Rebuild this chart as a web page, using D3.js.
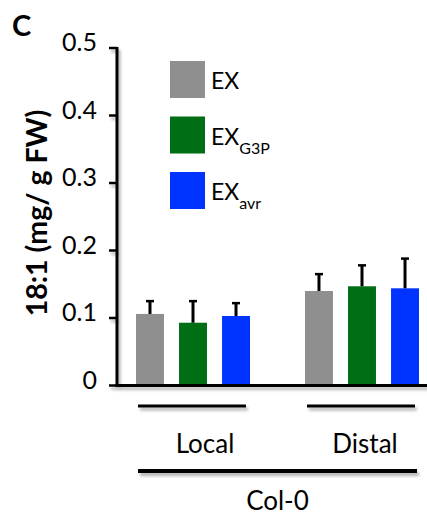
<!DOCTYPE html>
<html>
<head>
<meta charset="utf-8">
<script src="https://cdn.jsdelivr.net/npm/d3@7"></script>
<style>
  html, body { margin: 0; padding: 0; background: #fff; }
  svg { display: block; }
  text { font-family: Lato, "Open Sans", sans-serif; fill: #000; }
</style>
</head>
<body>
<script>
// 18:1 fatty acid content in exudates, Col-0 local vs distal tissue
const groups = ["Local", "Distal"];
const series = ["EX", "EX_G3P", "EX_avr"];
const seriesLabels = [["EX", ""], ["EX", "G3P"], ["EX", "avr"]];
const colors = ["#8f8f8f", "#006e14", "#0033ff"];
const values = {
  Local:  [0.106, 0.093, 0.103],
  Distal: [0.140, 0.147, 0.144]
};
const errors = {
  Local:  [0.019, 0.032, 0.019],
  Distal: [0.025, 0.031, 0.044]
};
const yTicks = [0, 0.1, 0.2, 0.3, 0.4, 0.5];
const yTickLabels = ["0", "0.1", "0.2", "0.3", "0.4", "0.5"];

const W = 427, H = 517;
const svg = d3.select("body").append("svg").attr("width", W).attr("height", H);

const defs = svg.append("defs");
const shadow = defs.append("filter").attr("id", "shadow")
  .attr("x", "-10%").attr("y", "-50%").attr("width", "130%").attr("height", "300%");
shadow.append("feDropShadow").attr("dx", 2).attr("dy", 3).attr("stdDeviation", 1.5)
  .attr("flood-color", "#000").attr("flood-opacity", 0.3);

const axisX = 117, axisRight = 427;
const y = d3.scaleLinear().domain([0, 0.5]).range([385.5, 48]);
const gx = d3.scalePoint().domain(groups).range([193, 362]);
const bx = d3.scaleBand().domain(series).range([-57, 57]).paddingInner(0.35).paddingOuter(0);

// bars
const barG = svg.append("g");
groups.forEach(g => {
  series.forEach((s, i) => {
    const x0 = gx(g) + bx(s);
    barG.append("rect")
      .attr("x", x0).attr("width", bx.bandwidth())
      .attr("y", y(values[g][i])).attr("height", y(0) - y(values[g][i]))
      .attr("fill", colors[i]);
    // upper error bar
    const cx = x0 + bx.bandwidth() / 2;
    const top = y(values[g][i] + errors[g][i]);
    barG.append("line")
      .attr("x1", cx).attr("x2", cx).attr("y1", y(values[g][i])).attr("y2", top)
      .attr("stroke", "#000").attr("stroke-width", 3);
    barG.append("line")
      .attr("x1", cx - 4).attr("x2", cx + 4).attr("y1", top).attr("y2", top)
      .attr("stroke", "#000").attr("stroke-width", 2.5);
  });
});

// y axis
const yAxisG = svg.append("g").attr("filter", "url(#shadow)");
yAxisG.append("line")
  .attr("x1", axisX).attr("x2", axisX).attr("y1", y(0.5) - 1).attr("y2", y(0) + 1.5)
  .attr("stroke", "#000").attr("stroke-width", 3);
yAxisG.selectAll(".tick").data(yTicks).join("line")
  .attr("x1", axisX - 8).attr("x2", axisX).attr("y1", d => y(d)).attr("y2", d => y(d))
  .attr("stroke", "#000").attr("stroke-width", 2.5);
// x axis
yAxisG.append("line")
  .attr("x1", axisX - 2).attr("x2", axisRight).attr("y1", y(0)).attr("y2", y(0))
  .attr("stroke", "#000").attr("stroke-width", 3);

svg.append("g").selectAll("text").data(yTicks).join("text")
  .attr("x", axisX - 20).attr("y", d => y(d) - 3)
  .attr("text-anchor", "end").attr("dominant-baseline", "middle")
  .attr("font-size", 25)
  .text((d, i) => yTickLabels[i]);

// y title
svg.append("text")
  .attr("transform", `translate(47,213) rotate(-90)`)
  .attr("text-anchor", "middle")
  .attr("font-size", 28.5).attr("font-weight", "bold")
  .text("18:1 (mg/ g FW)");

// panel letter
svg.append("text").attr("x", 12).attr("y", 36)
  .attr("font-size", 29).attr("font-weight", "bold").text("C");

// group brackets
const lines = svg.append("g").attr("filter", "url(#shadow)");
groups.forEach(g => {
  lines.append("line")
    .attr("x1", gx(g) - 55).attr("x2", gx(g) + 53)
    .attr("y1", 406).attr("y2", 406)
    .attr("stroke", "#000").attr("stroke-width", 3);
});
lines.append("line")
  .attr("x1", gx("Local") - 55).attr("x2", gx("Distal") + 55)
  .attr("y1", 471).attr("y2", 471)
  .attr("stroke", "#000").attr("stroke-width", 4);

svg.append("g").selectAll("text").data(groups).join("text")
  .attr("x", g => gx(g) + (g === "Local" ? 12 : 3)).attr("y", 453)
  .attr("text-anchor", "middle").attr("font-size", 26)
  .text(g => g);

svg.append("text").attr("x", (gx("Local") + gx("Distal")) / 2).attr("y", 510)
  .attr("text-anchor", "middle").attr("font-size", 26).text("Col-0");

// legend
const leg = svg.append("g");
series.forEach((s, i) => {
  const yy = 61 + i * 55.5;
  leg.append("rect").attr("x", 170).attr("y", yy).attr("width", 35).attr("height", 37)
    .attr("fill", colors[i]);
  const t = leg.append("text").attr("x", 211).attr("y", yy + 28).attr("font-size", 23);
  t.append("tspan").text(seriesLabels[i][0]);
  if (seriesLabels[i][1]) {
    t.append("tspan").attr("dy", 9).attr("font-size", 16).text(seriesLabels[i][1]);
  }
});
</script>
</body>
</html>
